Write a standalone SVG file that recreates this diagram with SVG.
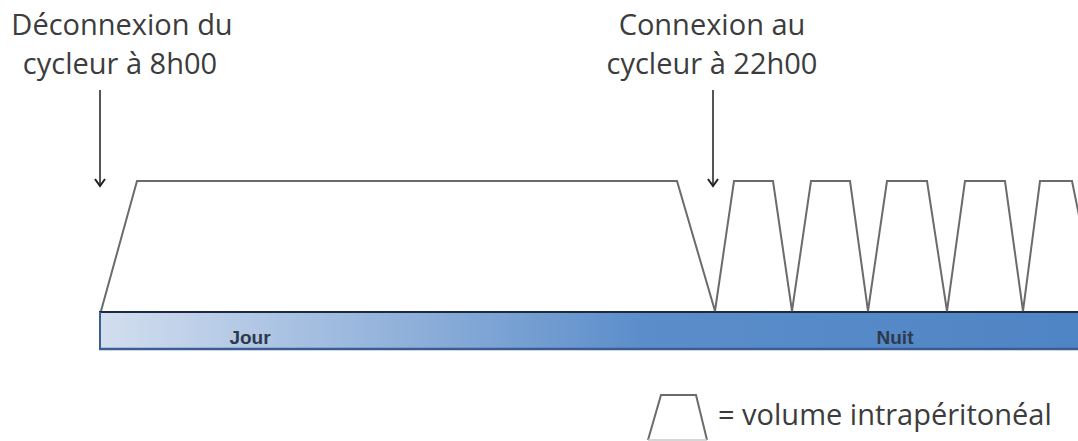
<svg xmlns="http://www.w3.org/2000/svg" width="1078" height="441" viewBox="0 0 1078 441">
<defs>
<linearGradient id="bar" x1="0" y1="0" x2="1" y2="0" gradientUnits="objectBoundingBox">
<stop offset="0" stop-color="#d3deef"/>
<stop offset="0.55" stop-color="#5b8dca"/>
<stop offset="1" stop-color="#4f84c4"/>
</linearGradient>
</defs>
<style>
.lbl{font-family:"Open Sans","Liberation Sans",sans-serif;font-size:29px;fill:#3c3c3c}
.bar{font-family:"Liberation Sans",sans-serif;font-size:19px;font-weight:bold;fill:#2e3a4c}
.vol{fill:none;stroke:#6b6b6b;stroke-width:2;stroke-linejoin:miter}
.arr{stroke:#555;stroke-width:2;fill:none}
.head{fill:none;stroke:#222;stroke-width:2}
</style>
<g id="timeline">
<rect x="100" y="312" width="990" height="37" fill="url(#bar)"/>
<line x1="99" y1="312" x2="1078" y2="312" stroke="#1c2a40" stroke-width="2"/>
<line x1="99" y1="349" x2="1078" y2="349" stroke="#3a5e92" stroke-width="2.5"/>
<line x1="100" y1="312" x2="100" y2="350" stroke="#3a5e92" stroke-width="2"/>
<text class="bar" x="250" y="344" text-anchor="middle">Jour</text>
<text class="bar" x="895" y="344" text-anchor="middle">Nuit</text>
</g>
<g id="volume-curve">
<polyline class="vol" points="101,311 137,181 677,181 715,311 734,181 773,181 792,311 811,181 850,181 868,311 887,181 927,181 947,311 965,181 1005,181 1023,311 1040,181 1072,181 1082,230"/>
</g>
<g id="label-deconnexion">
<text class="lbl" x="122" y="35" text-anchor="middle">Déconnexion du</text>
<text class="lbl" x="120" y="74" text-anchor="middle">cycleur à 8h00</text>
</g>
<g id="label-connexion">
<text class="lbl" x="712" y="35" text-anchor="middle">Connexion au</text>
<text class="lbl" x="712" y="74" text-anchor="middle">cycleur à 22h00</text>
</g>
<g id="connectors">
<line class="arr" x1="100" y1="90" x2="100" y2="185"/>
<path class="head" d="M95,179 L100,186 L105,179"/>
<line class="arr" x1="713" y1="90" x2="713" y2="185"/>
<path class="head" d="M708,179 L713,186 L718,179"/>
</g>
<g id="legend">
<path d="M648,440 L661,395 L696,395 L707,440" fill="none" stroke="#6b6b6b" stroke-width="2"/>
<line x1="648" y1="440" x2="707" y2="440" stroke="#c8c8c8" stroke-width="1.5"/>
<text class="lbl" x="718" y="425">= volume intrapéritonéal</text>
</g>
</svg>
